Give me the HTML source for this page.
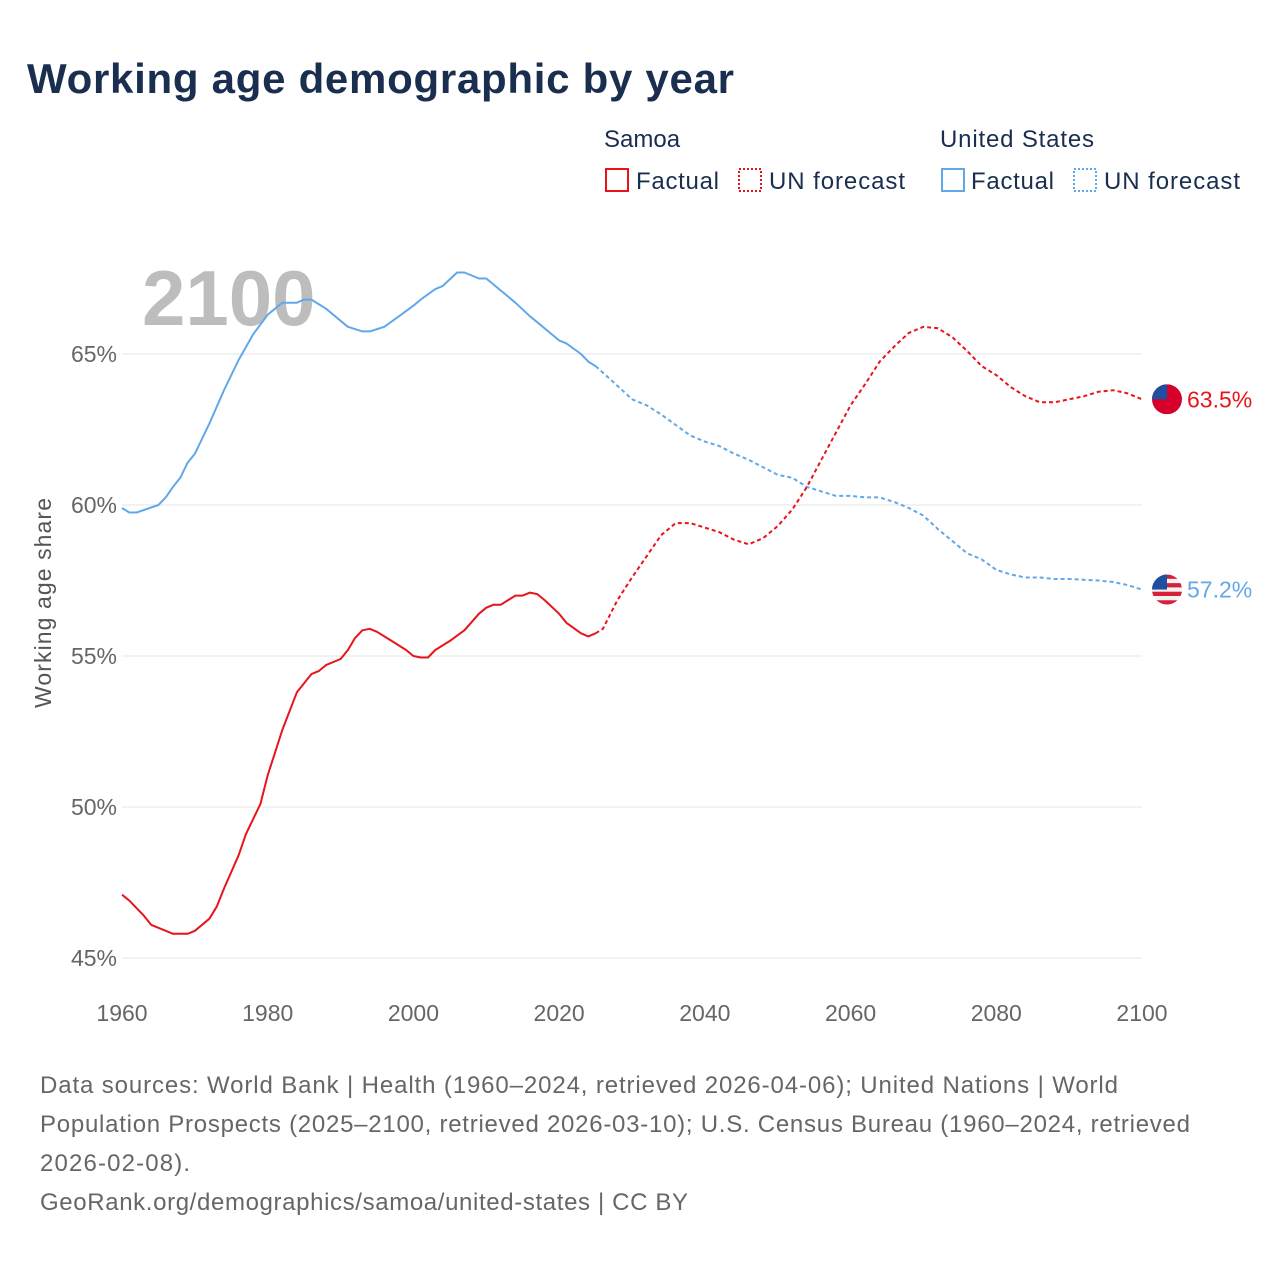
<!DOCTYPE html>
<html><head><meta charset="utf-8"><style>
body{margin:0;background:#fff;font-family:"Liberation Sans",sans-serif}
#wrap{position:relative;width:1280px;height:1280px;overflow:hidden}
</style></head><body>
<div id="wrap">
<svg id="chart" width="1280" height="1280" style="position:absolute;left:0;top:0">
<defs><clipPath id="flagclip1"><circle cx="1167" cy="0" r="15" id="fc1"/></clipPath><clipPath id="flagclip2"><circle cx="1167" cy="0" r="15" id="fc2"/></clipPath></defs>
<text x="27" y="93" font-size="42" font-weight="bold" fill="#1a2e4f" textLength="707">Working age demographic by year</text>
<g font-size="24" fill="#1a2e4f">
<text x="604" y="147">Samoa</text>
<rect x="606" y="169" width="22" height="22" fill="none" stroke="#e8141c" stroke-width="2"/>
<text x="636" y="189" textLength="83">Factual</text>
<rect x="739" y="169" width="22" height="22" fill="none" stroke="#e8141c" stroke-width="2" stroke-dasharray="2,2"/>
<text x="769" y="189" textLength="136">UN forecast</text>
<text x="940" y="147" textLength="154">United States</text>
<rect x="942" y="169" width="22" height="22" fill="none" stroke="#62a8e8" stroke-width="2"/>
<text x="971" y="189" textLength="83">Factual</text>
<rect x="1074" y="169" width="22" height="22" fill="none" stroke="#62a8e8" stroke-width="2" stroke-dasharray="2,2"/>
<text x="1104" y="189" textLength="136">UN forecast</text>
</g>
<text x="142" y="325" font-size="78" font-weight="bold" fill="#bdbdbd">2100</text>
<g id="grid"></g><g id="lines"></g>
<text transform="translate(51,603) rotate(-90)" text-anchor="middle" font-size="23" fill="#555" textLength="210">Working age share</text>
<g font-size="24" fill="#666">
<text x="40" y="1093" textLength="1078">Data sources: World Bank | Health (1960–2024, retrieved 2026-04-06); United Nations | World</text>
<text x="40" y="1132" textLength="1150">Population Prospects (2025–2100, retrieved 2026-03-10); U.S. Census Bureau (1960–2024, retrieved</text>
<text x="40" y="1171" textLength="150">2026-02-08).</text>
<text x="40" y="1210" textLength="648">GeoRank.org/demographics/samoa/united-states | CC BY</text>
</g>
</svg>
</div>
<script>
const xTicks=[1960,1980,2000,2020,2040,2060,2080,2100];
const yTicks=[45,50,55,60,65];
const samoaYears=[1960,1961,1963,1964,1967,1969,1970,1972,1973,1974,1976,1977,1979,1980,1982,1984,1986,1987,1988,1990,1991,1992,1993,1994,1995,1997,1999,2000,2001,2002,2003,2005,2007,2009,2010,2011,2012,2013,2014,2015,2016,2017,2018,2020,2021,2023,2024,2025];
const samoaValues=[47.1,46.9,46.4,46.1,45.8,45.8,45.9,46.3,46.7,47.3,48.4,49.1,50.1,51.05,52.55,53.8,54.4,54.5,54.7,54.9,55.2,55.6,55.85,55.9,55.8,55.5,55.2,55.0,54.95,54.95,55.2,55.5,55.85,56.4,56.6,56.7,56.7,56.85,57.0,57.0,57.1,57.05,56.85,56.4,56.1,55.75,55.65,55.75];
const samoaFcYears=[2025,2026,2028,2030,2032,2034,2036,2038,2040,2042,2044,2046,2048,2050,2052,2054,2056,2058,2060,2062,2064,2066,2068,2070,2072,2074,2076,2078,2080,2082,2084,2086,2088,2090,2092,2094,2096,2098,2100];
const samoaFcValues=[55.75,55.9,56.85,57.6,58.3,59.0,59.4,59.4,59.25,59.1,58.85,58.7,58.9,59.3,59.85,60.6,61.5,62.4,63.3,64.0,64.75,65.25,65.7,65.9,65.85,65.55,65.1,64.6,64.3,63.9,63.6,63.4,63.4,63.5,63.6,63.75,63.8,63.7,63.5];
const usYears=[1960,1961,1962,1965,1966,1967,1968,1969,1970,1972,1974,1976,1978,1980,1982,1984,1985,1986,1988,1990,1991,1993,1994,1996,1998,2000,2001,2003,2004,2006,2007,2009,2010,2012,2014,2016,2018,2020,2021,2023,2024,2025];
const usValues=[59.9,59.75,59.75,60.0,60.25,60.6,60.9,61.4,61.7,62.7,63.8,64.8,65.65,66.3,66.7,66.7,66.8,66.8,66.5,66.1,65.9,65.75,65.75,65.9,66.25,66.6,66.8,67.15,67.25,67.7,67.7,67.5,67.5,67.1,66.7,66.25,65.85,65.45,65.35,65.0,64.75,64.6];
const usFcYears=[2025,2028,2030,2032,2034,2036,2038,2040,2042,2044,2046,2048,2050,2052,2054,2056,2058,2060,2062,2064,2066,2068,2070,2072,2074,2076,2078,2080,2082,2084,2086,2088,2090,2094,2096,2098,2100];
const usFcValues=[64.6,63.95,63.5,63.3,63.0,62.65,62.3,62.1,61.95,61.7,61.5,61.25,61.0,60.9,60.6,60.45,60.3,60.3,60.25,60.25,60.1,59.9,59.65,59.2,58.8,58.4,58.2,57.85,57.7,57.6,57.6,57.55,57.55,57.5,57.45,57.35,57.2];
const NS='http://www.w3.org/2000/svg';
const xs=y=>122+(y-1960)*1020/140;
const ys=v=>354+(65-v)*30.2;
const grid=document.getElementById('grid'),lines=document.getElementById('lines');
function mk(tag,attrs,parent){const e=document.createElementNS(NS,tag);for(const k in attrs)e.setAttribute(k,attrs[k]);parent.appendChild(e);return e;}
yTicks.forEach(t=>{
 const l=mk('line',{x1:122,x2:1142,y1:ys(t),y2:ys(t),stroke:'#e6e6e6','stroke-width':1},grid);
 
 
 const tx=mk('text',{x:117,y:ys(t)+8,'text-anchor':'end','font-size':23,fill:'#666'},grid);
 tx.textContent=t+'%';
 
 
});
xTicks.forEach(t=>{
 const tx=mk('text',{x:xs(t),y:1021,'text-anchor':'middle','font-size':23,fill:'#666'},grid);
 tx.textContent=t;
 
 
});
function path(yrs,vals,color,dash,name){
 const d=yrs.map((y,i)=>(i?'L':'M')+xs(y).toFixed(1)+','+ys(vals[i]).toFixed(1)).join('');
 const p=mk('path',{d:d,fill:'none',stroke:color,'stroke-width':2,'stroke-linejoin':'round'},lines);
 if(dash)p.setAttribute('stroke-dasharray',dash);
 
 
}
path(usYears,usValues,'#62a8e8',null,'us-factual-line');
path(usFcYears,usFcValues,'#62a8e8','4,3','us-forecast-line');
path(samoaYears,samoaValues,'#e8141c',null,'samoa-factual-line');
path(samoaFcYears,samoaFcValues,'#e8141c','4,3','samoa-forecast-line');
function endLabel(v,color,name,flag,clipId,circId){
 const y=ys(v),g=mk('g',{},lines);
 
 
 const cx=1167;
 document.getElementById(circId).setAttribute('cy',y);
 const fg=mk('g',{'clip-path':'url(#'+clipId+')'},g);
 mk('rect',{x:cx-15,y:y-15,width:30,height:30,fill:flag==='ws'?'#d5002b':'#f2f2f2'},fg);
 if(flag!=='ws'){for(let i=0;i<7;i++)if(i%2==0)mk('rect',{x:cx-15,y:y-15+i*30/7,width:30,height:30/7,fill:'#d5203a'},fg);}
 mk('rect',{x:cx-15,y:y-15,width:15,height:15,fill:'#1f4fa0'},fg);
 const t=mk('text',{x:1187,y:y+8,'font-size':23,fill:color},g);
 t.textContent=v.toFixed(1)+'%';
}
endLabel(samoaFcValues[samoaFcValues.length-1],'#e8141c','samoa-end-label','ws','flagclip1','fc1');
endLabel(usFcValues[usFcValues.length-1],'#62a8e8','us-end-label','us','flagclip2','fc2');
</script>
</body></html>
